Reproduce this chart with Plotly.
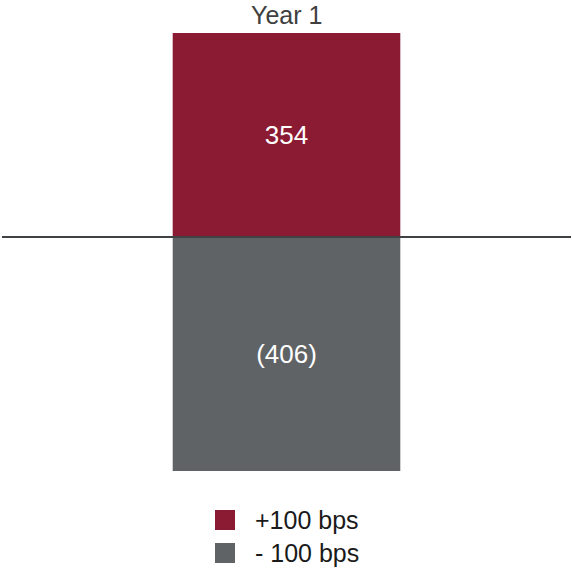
import plotly.graph_objects as go

# Interest-rate sensitivity, Year 1
categories = ["Year 1"]
series_names = ["+100 bps", "- 100 bps"]
series_values = [[354], [-406]]
series_colors = ["#8B1A33", "#5F6366"]

W, H = 572, 570
M_L, M_R, M_T, M_B = 2, 1, 33, 99
PLOT_W = W - M_L - M_R
PLOT_H = H - M_T - M_B
FONT = "Liberation Sans, Arial"


def px_x(px):
    return (px - M_L) / PLOT_W


def px_y(py):
    return (H - M_B - py) / PLOT_H


def fmt(v):
    return f"({abs(v):,})" if v < 0 else f"{v:,}"


fig = go.Figure()
for name, vals, col in zip(series_names, series_values, series_colors):
    fig.add_trace(go.Bar(
        x=categories, y=vals, name=name,
        marker=dict(color=col, line=dict(width=0)),
        text=[fmt(v) for v in vals],
        textposition="inside", insidetextanchor="middle",
        textfont=dict(color="white", size=26, family=FONT),
        width=0.4, showlegend=False,
    ))

shapes = [dict(type="line", xref="paper", yref="y", x0=0, x1=1, y0=0, y1=0,
               line=dict(color="#3F4245", width=2), layer="above")]
annotations = [dict(xref="x", yref="paper", x=categories[0], y=px_y(15),
                    xanchor="center", yanchor="middle", showarrow=False,
                    text=categories[0],
                    font=dict(size=25, color="#404040", family=FONT))]
for i, (name, col) in enumerate(zip(series_names, series_colors)):
    cy = 520 + i * 33
    shapes.append(dict(type="rect", xref="paper", yref="paper",
                       x0=px_x(215), x1=px_x(235), y0=px_y(cy + 10), y1=px_y(cy - 10),
                       fillcolor=col, line=dict(width=0)))
    annotations.append(dict(xref="paper", yref="paper", x=px_x(253), y=px_y(cy),
                            xanchor="left", yanchor="middle", showarrow=False,
                            text=name,
                            font=dict(size=25, color="#1A1A1A", family=FONT)))

fig.update_layout(
    width=W, height=H,
    margin=dict(l=M_L, r=M_R, t=M_T, b=M_B),
    barmode="relative",
    plot_bgcolor="white", paper_bgcolor="white",
    shapes=shapes, annotations=annotations,
    xaxis=dict(showticklabels=False, showgrid=False, showline=False, ticks="",
               range=[-0.5, 0.5]),
    yaxis=dict(visible=False, range=[-406, 354], zeroline=False, showgrid=False),
)

fig.write_html("out.html")
